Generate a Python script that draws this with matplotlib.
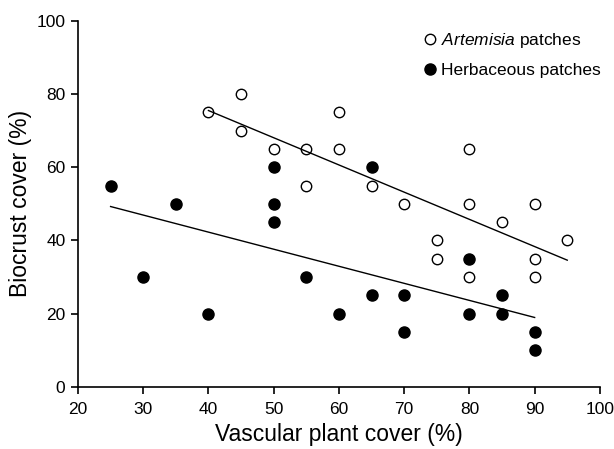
import numpy as np
import matplotlib.pyplot as plt

plt.rcParams['font.family'] = ['Liberation Sans', 'DejaVu Sans']
plt.rcParams['mathtext.fontset'] = 'custom'
plt.rcParams['mathtext.it'] = 'Liberation Sans:italic'
plt.rcParams['mathtext.rm'] = 'Liberation Sans'

# Artemisia patches
art_x = [40, 45, 45, 50, 55, 55, 60, 60, 65, 70, 75, 75, 80, 80, 80, 85, 90, 90, 90, 95]
art_y = [75, 80, 70, 65, 65, 55, 75, 65, 55, 50, 40, 35, 65, 50, 30, 45, 50, 35, 30, 40]

# Herbaceous patches
herb_x = [25, 30, 35, 40, 50, 50, 50, 55, 60, 65, 65, 70, 70, 80, 80, 85, 85, 90, 90]
herb_y = [55, 30, 50, 20, 60, 50, 45, 30, 20, 60, 25, 25, 15, 35, 20, 25, 20, 15, 10]

fig = plt.figure(figsize=(6.14, 4.49), dpi=100)
ax = fig.add_axes([0.127, 0.138, 0.85, 0.816])

ax.plot(art_x, art_y, 'o', ms=7.5, mfc='white', mec='black', mew=1.0,
        label=r'$\it{Artemisia}$ patches')
ax.plot(herb_x, herb_y, 'o', ms=8, mfc='black', mec='black', mew=1.0,
        label='Herbaceous patches')

# least-squares lines over each group's range
for xs, ys in [(art_x, art_y), (herb_x, herb_y)]:
    k, b = np.polyfit(xs, ys, 1)
    xx = np.array([min(xs), max(xs)])
    ax.plot(xx, k * xx + b, color='black', lw=1.0)

ax.set_xlim(20, 100)
ax.set_ylim(0, 100)
ax.set_xticks(range(20, 101, 10))
ax.set_yticks(range(0, 101, 20))
ax.spines['top'].set_visible(False)
ax.spines['right'].set_visible(False)
for s in ['left', 'bottom']:
    ax.spines[s].set_linewidth(1.2)
ax.tick_params(direction='out', length=5, width=1.2, labelsize=12.5, pad=4)
ax.tick_params(axis='x', pad=6)

ax.set_xlabel('Vascular plant cover (%)', fontsize=16.5, labelpad=4)
ax.set_ylabel('Biocrust cover (%)', fontsize=16.5, labelpad=3)

ax.legend(loc='upper left', bbox_to_anchor=(0.642, 0.99), frameon=False,
          fontsize=12.5, handletextpad=0.0, labelspacing=0.75,
          handlelength=1.2, borderaxespad=0)

fig.savefig('out.png', dpi=100)
